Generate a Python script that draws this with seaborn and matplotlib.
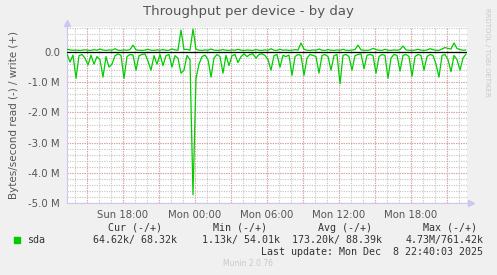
import matplotlib
matplotlib.use("Agg")
import matplotlib.pyplot as plt
import seaborn as sns
import numpy as np
import pandas as pd

# ---- data (values in kB/s, 15-minute samples starting Sun 13:20) ----
read_k = [60, 330, 100, 870, 120, 80, 200, 430, 100, 400,
          150, 250, 830, 150, 500, 400, 120, 60, 110, 870,
          150, 80, 100, 600, 120, 80, 60, 300, 600, 120,
          400, 80, 450, 120, 80, 500, 120, 200, 700, 600,
          110, 250, 4730, 870, 400, 150, 100, 250, 830, 200,
          80, 150, 700, 110, 450, 120, 80, 350, 150, 60,
          150, 80, 60, 200, 80, 60, 110, 250, 600, 120,
          80, 500, 110, 150, 100, 770, 150, 80, 110, 770,
          200, 80, 110, 150, 700, 110, 80, 150, 600, 120,
          80, 1050, 110, 80, 150, 600, 120, 80, 60, 550,
          110, 80, 110, 700, 150, 80, 110, 870, 200, 80,
          110, 630, 110, 80, 150, 800, 150, 80, 110, 600,
          150, 80, 110, 400, 830, 110, 80, 250, 650, 110,
          250, 600, 200, 65]
write_k = [90, 70, 60, 65, 55, 60, 75, 60, 55, 80,
           60, 100, 65, 55, 70, 60, 110, 60, 55, 70,
           60, 80, 230, 70, 60, 55, 65, 90, 60, 55,
           70, 60, 80, 55, 60, 100, 70, 60, 730, 80,
           90, 60, 761, 90, 60, 55, 70, 60, 100, 65,
           55, 60, 80, 60, 55, 70, 60, 90, 60, 55,
           65, 60, 55, 80, 60, 55, 70, 60, 110, 60,
           55, 90, 60, 70, 55, 60, 80, 65, 300, 90,
           60, 55, 70, 60, 100, 60, 55, 80, 60, 55,
           70, 60, 90, 60, 55, 65, 80, 230, 70, 60,
           55, 70, 120, 80, 60, 55, 90, 60, 55, 70,
           60, 80, 200, 70, 60, 55, 65, 90, 60, 55,
           70, 110, 80, 60, 55, 100, 150, 120, 100, 300,
           120, 80, 60, 68]
sample_hours = 0.25
x_tick_labels = ["Sun 18:00", "Mon 00:00", "Mon 06:00", "Mon 12:00", "Mon 18:00"]
x_tick_hours = [4 + 40/60, 10 + 40/60, 16 + 40/60, 22 + 40/60, 28 + 40/60]
y_ticks = [0, -1e6, -2e6, -3e6, -4e6, -5e6]
y_tick_labels = ["0.0", "-1.0 M", "-2.0 M", "-3.0 M", "-4.0 M", "-5.0 M"]
legend_header = ["Cur (-/+)", "Min (-/+)", "Avg (-/+)", "Max (-/+)"]
legend_values = ["64.62k/ 68.32k", "1.13k/ 54.01k", "173.20k/ 88.39k", "4.73M/761.42k"]
series_name = "sda"

n = len(read_k)
df = pd.DataFrame({
    "t": np.arange(n) * sample_hours,
    "read": -np.array(read_k, dtype=float) * 1000,
    "write": np.array(write_k, dtype=float) * 1000,
})

sns.set_style("white")
plt.rcParams["font.family"] = ["DejaVu Sans"]

W, H = 497, 275
fig = plt.figure(figsize=(W / 100, H / 100), dpi=100, facecolor="#F0F0F0")
L, R, T, B = 67, 467, 27, 203
ax = fig.add_axes([L / W, 1 - B / H, (R - L) / W, (B - T) / H])
ax.set_facecolor("white")

xmax = 400 / 12.0
ax.set_xlim(0, xmax)
ax.set_ylim(-5.0e6, 0.83e6)

# grid
minor_c = "#C4C4C4"
major_c = "#E49A9A"
dot = (0, (1, 1.2))
for h in np.arange(40/60, xmax, 1.0):
    ax.axvline(h, color=minor_c, lw=0.8, ls=dot, zorder=0)
for h in np.arange(1 + 40/60, xmax, 3.0):
    ax.axvline(h, color=major_c, lw=0.8, ls=dot, zorder=0.5)
for v in np.arange(-5.0e6, 0.85e6, 0.2e6):
    ax.axhline(v, color=minor_c, lw=0.8, ls=dot, zorder=0)
for v in np.arange(-5.0e6, 0.5e6, 1.0e6):
    ax.axhline(v, color=major_c, lw=0.8, ls=dot, zorder=0.5)

green = "#00CC00"
sns.lineplot(data=df, x="t", y="read", ax=ax, color=green, lw=0.9, zorder=3)
sns.lineplot(data=df, x="t", y="write", ax=ax, color=green, lw=0.9, zorder=3)
ax.axhline(0, color="black", lw=0.9, zorder=4)

for s in ["top", "right"]:
    ax.spines[s].set_visible(False)
for s in ["left", "bottom"]:
    ax.spines[s].set_color("#C8C8F0")
    ax.spines[s].set_linewidth(0.8)

ax.set_xticks(x_tick_hours)
ax.set_xticklabels(x_tick_labels)
ax.set_yticks(y_ticks)
ax.set_yticklabels(y_tick_labels)
ax.tick_params(axis="both", labelsize=7.3, labelcolor="#555555", colors="#E49A9A",
               length=2, width=0.7, direction="in", pad=5)
ax.set_xlabel("")
ax.set_ylabel("Bytes/second read (-) / write (+)", fontsize=7.5, color="#555555", labelpad=7)

# arrows
ax.plot([0], [0.83e6 + 0.12e6], marker="^", color="#C8C8F0", ms=4, clip_on=False)
ax.plot([xmax + 0.3], [-5.0e6], marker=">", color="#C8C8F0", ms=4, clip_on=False)

def px(x, y):
    return x / W, 1 - y / H

fig.text(*px(248, 12), "Throughput per device - by day", ha="center", va="center",
         fontsize=9.5, color="#555555")
fig.text(*px(487, 52), "RRDTOOL / TOBI OETIKER", ha="center", va="center",
         rotation=270, fontsize=5, color="#C8C8C8")

mono = "DejaVu Sans Mono"
hx = [108, 213, 318, 423]
vx = [93, 202, 292, 406]
for x, s in zip(hx, legend_header):
    fig.text(*px(x, 228), s, ha="left", va="center", family=mono, fontsize=7.2, color="#333333")
for x, s in zip(vx, legend_values):
    fig.text(*px(x, 240), s, ha="left", va="center", family=mono, fontsize=7.2, color="#333333")
fig.patches.append(plt.Rectangle(px(14, 243), 6 / W, 6 / H, transform=fig.transFigure,
                                 color=green, figure=fig))
fig.text(*px(27, 240), series_name, ha="left", va="center", family=mono, fontsize=7.2, color="#333333")
fig.text(*px(483, 252), "Last update: Mon Dec  8 22:40:03 2025", ha="right", va="center",
         family=mono, fontsize=7.2, color="#333333")
fig.text(*px(248, 264), "Munin 2.0.76", ha="center", va="center", fontsize=5.5, color="#C8C8C8")

fig.savefig("out.png", dpi=100, facecolor=fig.get_facecolor())
